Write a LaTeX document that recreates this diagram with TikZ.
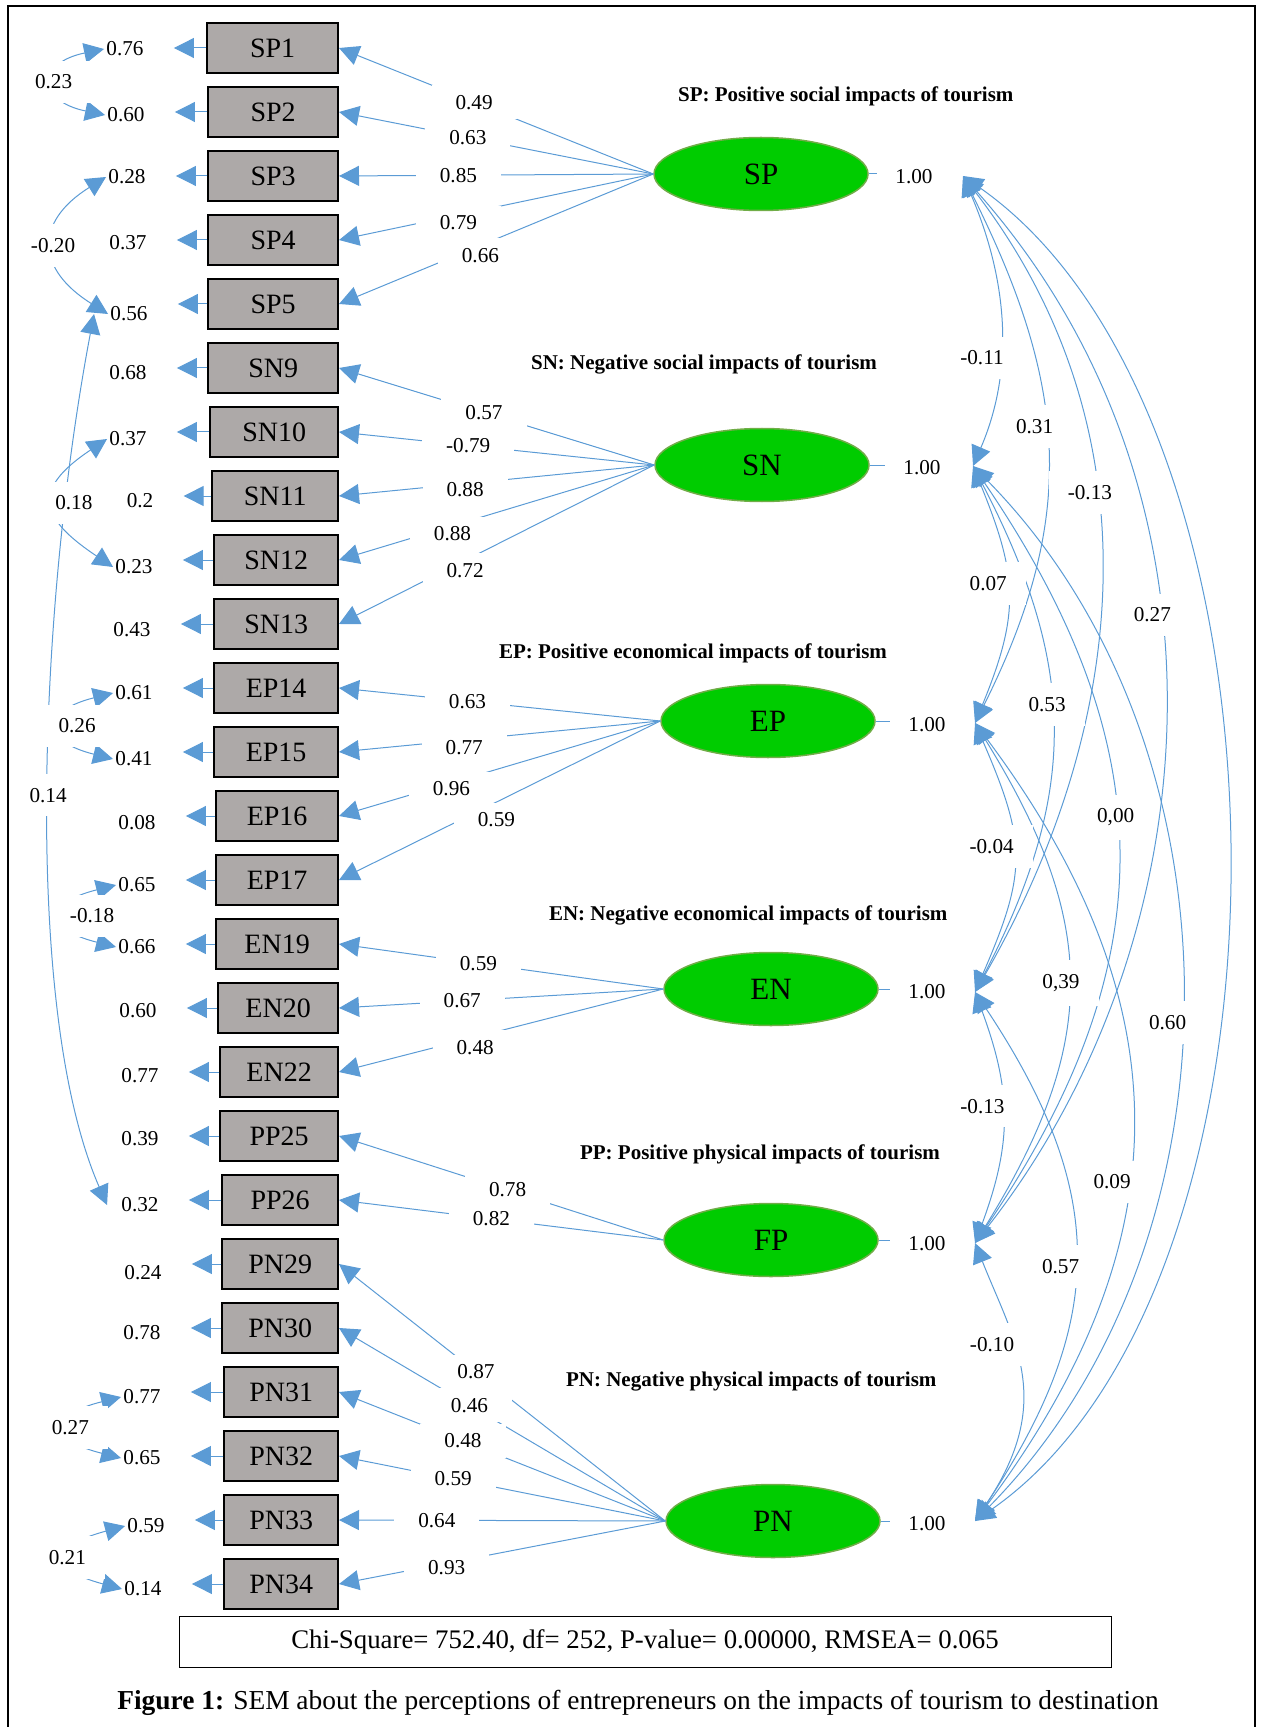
\documentclass[tikz,border=0pt]{standalone}
\usepackage{fontspec}
\setmainfont{Liberation Serif}
\usetikzlibrary{arrows.meta}
\usetikzlibrary{shapes.geometric}
\definecolor{pathblue}{HTML}{5B9BD5}
\definecolor{boxgray}{HTML}{ADA9A8}
\definecolor{latgreen}{HTML}{00CC00}
\definecolor{latrim}{HTML}{70AD47}

\begin{document}
\begin{tikzpicture}[x=0.5pt,y=-0.5pt,>/.tip={Triangle[length=10pt,width=10pt]},
	item/.style={draw,fill=boxgray,line width=0.85pt,anchor=east,minimum height=25pt,minimum width=#1,inner sep=0pt,font=\fontsize{14}{16}\selectfont},
	latent/.style={draw=latrim,fill=latgreen,line width=0.75pt,shape=ellipse,minimum width=107pt,minimum height=36.5pt,inner sep=0pt,font=\fontsize{15.5}{18}\selectfont},
	num/.style={inner sep=1pt,font=\fontsize{10.6}{12}\selectfont},
	onpath/.style={num,fill=white,inner xsep=12pt,inner ysep=5pt},
	oncurve/.style={num,fill=white,inner xsep=9.5pt,inner ysep=7pt},
	title/.style={anchor=west,font=\bfseries\fontsize{10.5}{12}\selectfont},
	load/.style={->,draw=pathblue,line width=0.5pt},
	err/.style={->,draw=pathblue,line width=0.5pt,shorten >=14pt},
	cov/.style={<->,draw=pathblue,line width=0.5pt}]
	\useasboundingbox (0,0) rectangle (1262,1727);
	\draw[line width=0.85pt] (8,1727) -- (8,6) -- (1255,6) -- (1255,1727);

	% observed items
	\draw (339,48) node (SP1) [item=65.5pt] {SP1};
	\draw (339,112) node (SP2) [item=65pt] {SP2};
	\draw (339,176) node (SP3) [item=65pt] {SP3};
	\draw (339,240) node (SP4) [item=65pt] {SP4};
	\draw (339,304) node (SP5) [item=65pt] {SP5};
	\draw (339,368) node (SN9) [item=65pt] {SN9};
	\draw (339,432) node (SN10) [item=64pt] {SN10};
	\draw (339,496) node (SN11) [item=63pt] {SN11};
	\draw (339,560) node (SN12) [item=62pt] {SN12};
	\draw (339,624) node (SN13) [item=62pt] {SN13};
	\draw (339,688) node (EP14) [item=62pt] {EP14};
	\draw (339,752) node (EP15) [item=62pt] {EP15};
	\draw (339,816) node (EP16) [item=61pt] {EP16};
	\draw (339,880) node (EP17) [item=61pt] {EP17};
	\draw (339,944) node (EN19) [item=61pt] {EN19};
	\draw (339,1008) node (EN20) [item=60pt] {EN20};
	\draw (339,1072) node (EN22) [item=59pt] {EN22};
	\draw (339,1136) node (PP25) [item=59pt] {PP25};
	\draw (339,1200) node (PP26) [item=58pt] {PP26};
	\draw (339,1264) node (PN29) [item=58pt] {PN29};
	\draw (339,1328) node (PN30) [item=58pt] {PN30};
	\draw (339,1392) node (PN31) [item=57pt] {PN31};
	\draw (339,1456) node (PN32) [item=57pt] {PN32};
	\draw (339,1520) node (PN33) [item=57pt] {PN33};
	\draw (339,1584) node (PN34) [item=57pt] {PN34};

	% error variances
	\draw (125,49) node (eSP1) [num] {0.76};
	\draw (126,115) node (eSP2) [num] {0.60};
	\draw (127,177) node (eSP3) [num] {0.28};
	\draw (128,243) node (eSP4) [num] {0.37};
	\draw (129,314) node (eSP5) [num] {0.56};
	\draw (128,373) node (eSN9) [num] {0.68};
	\draw (128,439) node (eSN10) [num] {0.37};
	\draw (140,501) node (eSN11) [num] {0.2};
	\draw (134,567) node (eSN12) [num] {0.23};
	\draw (132,630) node (eSN13) [num] {0.43};
	\draw (134,693) node (eEP14) [num] {0.61};
	\draw (134,759) node (eEP15) [num] {0.41};
	\draw (137,823) node (eEP16) [num] {0.08};
	\draw (137,885) node (eEP17) [num] {0.65};
	\draw (137,947) node (eEN19) [num] {0.66};
	\draw (138,1011) node (eEN20) [num] {0.60};
	\draw (140,1076) node (eEN22) [num] {0.77};
	\draw (140,1139) node (ePP25) [num] {0.39};
	\draw (140,1205) node (ePP26) [num] {0.32};
	\draw (143,1273) node (ePN29) [num] {0.24};
	\draw (142,1333) node (ePN30) [num] {0.78};
	\draw (142,1397) node (ePN31) [num] {0.77};
	\draw (142,1458) node (ePN32) [num] {0.65};
	\draw (146,1526) node (ePN33) [num] {0.59};
	\draw (143,1589) node (ePN34) [num] {0.14};

	\draw[err] (SP1.west) -- (SP1.west -| eSP1.east);
	\draw[err] (SP2.west) -- (SP2.west -| eSP2.east);
	\draw[err] (SP3.west) -- (SP3.west -| eSP3.east);
	\draw[err] (SP4.west) -- (SP4.west -| eSP4.east);
	\draw[err] (SP5.west) -- (SP5.west -| eSP5.east);
	\draw[err] (SN9.west) -- (SN9.west -| eSN9.east);
	\draw[err] (SN10.west) -- (SN10.west -| eSN10.east);
	\draw[err] (SN11.west) -- (SN11.west -| eSN11.east);
	\draw[err] (SN12.west) -- (SN12.west -| eSN12.east);
	\draw[err] (SN13.west) -- (SN13.west -| eSN13.east);
	\draw[err] (EP14.west) -- (EP14.west -| eEP14.east);
	\draw[err] (EP15.west) -- (EP15.west -| eEP15.east);
	\draw[err] (EP16.west) -- (EP16.west -| eEP16.east);
	\draw[err] (EP17.west) -- (EP17.west -| eEP17.east);
	\draw[err] (EN19.west) -- (EN19.west -| eEN19.east);
	\draw[err] (EN20.west) -- (EN20.west -| eEN20.east);
	\draw[err] (EN22.west) -- (EN22.west -| eEN22.east);
	\draw[err] (PP25.west) -- (PP25.west -| ePP25.east);
	\draw[err] (PP26.west) -- (PP26.west -| ePP26.east);
	\draw[err] (PN29.west) -- (PN29.west -| ePN29.east);
	\draw[err] (PN30.west) -- (PN30.west -| ePN30.east);
	\draw[err] (PN31.west) -- (PN31.west -| ePN31.east);
	\draw[err] (PN32.west) -- (PN32.west -| ePN32.east);
	\draw[err] (PN33.west) -- (PN33.west -| ePN33.east);
	\draw[err] (PN34.west) -- (PN34.west -| ePN34.east);

	% correlated errors
	\draw[cov] ([xshift=-7pt]eSP5.west) .. controls +(-55,290) and +(-85,-195) .. ([xshift=-6pt]ePP26.west) coordinate[pos=.5] (kE14);
	\draw[cov] (eSP1.west) .. controls +(-68,14) and +(-68,-14) .. (eSP2.west) coordinate[pos=.5] (kE23);
	\draw[cov] (eSP3.west) .. controls +(-72,45) and +(-72,-45) .. (eSP5.west) coordinate[pos=.5] (kE20);
	\draw[cov] (eSN10.west) .. controls +(-75,50) and +(-75,-50) .. (eSN12.west) coordinate[pos=.5] (kE18);
	\draw[cov] (eEP14.west) .. controls +(-72,18) and +(-72,-18) .. (eEP15.west) coordinate[pos=.5] (kE26);
	\draw[cov] (eEP17.west) .. controls +(-72,18) and +(-72,-18) .. (eEN19.west) coordinate[pos=.5] (kE18n);
	\draw[cov] (ePN31.west) .. controls +(-73,18) and +(-73,-18) .. (ePN32.west) coordinate[pos=.5] (kE27);
	\draw[cov] (ePN33.west) .. controls +(-75,20) and +(-75,-20) .. (ePN34.west) coordinate[pos=.5] (kE21);
	\draw (kE14) node [oncurve] {0.14};
	\draw (kE23) node [oncurve] {0.23};
	\draw (kE20) node [oncurve] {-0.20};
	\draw (kE18) node [oncurve,xshift=10pt] {0.18};
	\draw (kE26) node [oncurve,xshift=9pt] {0.26};
	\draw (kE18n) node [oncurve,xshift=15pt] {-0.18};
	\draw (kE27) node [oncurve,xshift=2pt] {0.27};
	\draw (kE21) node [oncurve] {0.21};

	% latent factors
	\draw (761,174) node (SP) [latent] {SP};
	\draw (762,465) node (SN) [latent] {SN};
	\draw (768,721) node (EP) [latent] {EP};
	\draw (771,989) node (EN) [latent] {EN};
	\draw (771,1240) node (FP) [latent] {FP};
	\draw (773,1521) node (PN) [latent] {PN};

	\draw (671,96) node (tSP) [title] {SP: Positive social impacts of tourism};
	\draw (524,364) node (tSN) [title] {SN: Negative social impacts of tourism};
	\draw (492,653) node (tEP) [title] {EP: Positive economical impacts of tourism};
	\draw (542,915) node (tEN) [title] {EN: Negative economical impacts of tourism};
	\draw (573,1154) node (tFP) [title] {PP: Positive physical impacts of tourism};
	\draw (559,1381) node (tPN) [title] {PN: Negative physical impacts of tourism};

	% loadings
	\path (SP.west) edge [load] node [onpath,pos=.57] {0.49} (SP1.east);
	\path (SP.west) edge [load] node [onpath,pos=.59] {0.63} (SP2.east);
	\path (SP.west) edge [load] node [onpath,pos=.62] {0.85} (SP3.east);
	\path (SP.west) edge [load] node [onpath,pos=.62,yshift=-4pt] {0.79} (SP4.east);
	\path (SP.west) edge [load] node [onpath,pos=.55,yshift=-5pt] {0.66} (SP5.east);
	\path (SN.west) edge [load] node [onpath,pos=.54] {0.57} (SN9.east);
	\path (SN.west) edge [load] node [onpath,pos=.59] {-0.79} (SN10.east);
	\path (SN.west) edge [load] node [onpath,pos=.60,yshift=-3pt] {0.88} (SN11.east);
	\path (SN.west) edge [load] node [onpath,pos=.64,yshift=-4pt] {0.88} (SN12.east);
	\path (SN.west) edge [load] node [onpath,pos=.60,yshift=-5pt] {0.72} (SN13.east);
	\path (EP.west) edge [load] node [onpath,pos=.60] {0.63} (EP14.east);
	\path (EP.west) edge [load] node [onpath,pos=.61,yshift=-4pt] {0.77} (EP15.east);
	\path (EP.west) edge [load] node [onpath,pos=.65,yshift=-3pt] {0.96} (EP16.east);
	\path (EP.west) edge [load] node [onpath,pos=.51,yshift=-9pt] {0.59} (EP17.east);
	\path (EN.west) edge [load] node [onpath,pos=.57] {0.59} (EN19.east);
	\path (EN.west) edge [load] node [onpath,pos=.62] {0.67} (EN20.east);
	\path (EN.west) edge [load] node [onpath,pos=.58,yshift=-5pt] {0.48} (EN22.east);
	\path (FP.west) edge [load] node [onpath,pos=.48] {0.78} (PP25.east);
	\path (FP.west) edge [load] node [onpath,pos=.53] {0.82} (PP26.east);
	\path (PN.west) edge [load] node [onpath,pos=.58] {0.87} (PN29.east);
	\path (PN.west) edge [load] node [onpath,pos=.60] {0.46} (PN30.east);
	\path (PN.west) edge [load] node [onpath,pos=.62] {0.48} (PN31.east);
	\path (PN.west) edge [load] node [onpath,pos=.65] {0.59} (PN32.east);
	\path (PN.west) edge [load] node [onpath,pos=.70] {0.64} (PN33.east);
	\path (PN.west) edge [load] node [onpath,pos=.67,yshift=-2pt] {0.93} (PN34.east);

	% factor variances
	\draw (914,177) node (vSP) [num,inner xsep=9pt] {1.00};
	\draw (922,468) node (vSN) [num,inner xsep=9pt] {1.00};
	\draw (927,725) node (vEP) [num,inner xsep=9pt] {1.00};
	\draw (927,992) node (vEN) [num,inner xsep=9pt] {1.00};
	\draw (927,1244) node (vFP) [num,inner xsep=9pt] {1.00};
	\draw (927,1524) node (vPN) [num,inner xsep=9pt] {1.00};
	\draw[pathblue,line width=0.5pt] (SP.east) -- (SP.east -| vSP.west);
	\draw[pathblue,line width=0.5pt] (SN.east) -- (SN.east -| vSN.west);
	\draw[pathblue,line width=0.5pt] (EP.east) -- (EP.east -| vEP.west);
	\draw[pathblue,line width=0.5pt] (EN.east) -- (EN.east -| vEN.west);
	\draw[pathblue,line width=0.5pt] (FP.east) -- (FP.east -| vFP.west);
	\draw[pathblue,line width=0.5pt] (PN.east) -- (PN.east -| vPN.west);

	% factor covariances
	\coordinate (SPc) at (963,176);
	\coordinate (SNc) at (973,466);
	\coordinate (EPc) at (975,723);
	\coordinate (ENc) at (975,992);
	\coordinate (FPc) at (975,1243);
	\coordinate (PNc) at (975,1521);
	\draw[cov] (SPc) .. controls +(43,100) and +(43,-100) .. (SNc) coordinate[pos=.63] (kSPSN);
	\draw[cov] (SPc) .. controls +(104,208) and +(104,-208) .. (EPc) coordinate[pos=.455] (kSPEP);
	\draw[cov] (SPc) .. controls +(200,260) and +(150,-260) .. (ENc) coordinate[pos=.39] (kSPEN);
	\draw[cov] (SPc) .. controls +(285,320) and +(235,-300) .. (FPc) coordinate[pos=.41] (kSPFP);
	\draw[cov] (SPc) .. controls +(344,240) and +(344,-240) .. (PNc);
	\draw[cov] (SNc) .. controls +(45,110) and +(45,-110) .. (EPc) coordinate[pos=.45] (kSNEP);
	\draw[cov] (SNc) .. controls +(104,200) and +(104,-200) .. (ENc) coordinate[pos=.45] (kSNEN);
	\draw[cov] (SNc) .. controls +(191,280) and +(191,-280) .. (FPc) coordinate[pos=.45] (kSNFP);
	\draw[cov] (SNc) .. controls +(276,280) and +(276,-280) .. (PNc) coordinate[pos=.525] (kSNPN);
	\draw[cov] (EPc) .. controls +(52,120) and +(52,-120) .. (ENc) coordinate[pos=.45] (kEPEN);
	\draw[cov] (EPc) .. controls +(124,200) and +(124,-200) .. (FPc) coordinate[pos=.5] (kEPFP);
	\draw[cov] (EPc) .. controls +(209,280) and +(209,-280) .. (PNc) coordinate[pos=.577] (kEPPN);
	\draw[cov] (ENc) .. controls +(37,100) and +(37,-100) .. (FPc) coordinate[pos=.45] (kENFP);
	\draw[cov] (ENc) .. controls +(133,200) and +(133,-200) .. (PNc) coordinate[pos=.52] (kENPN);
	\draw[cov] (FPc) .. controls +(40,100) and +(80,-120) .. (PNc) coordinate[pos=.38] (kFPPN);
	\draw (kSPSN) node [oncurve,xshift=-9pt] {-0.11};
	\draw (kSPEP) node [oncurve,xshift=-5.5pt] {0.31};
	\draw (kSPEN) node [oncurve,xshift=-3pt] {-0.13};
	\draw (kSPFP) node [oncurve,xshift=-3.5pt] {0.27};
	\draw (kSNEP) node [oncurve,xshift=-9.5pt] {0.07};
	\draw (kSNEN) node [oncurve,xshift=-2pt] {0.53};
	\draw (kSNFP) node [oncurve] {0,00};
	\draw (kSNPN) node [oncurve,xshift=-6.5pt] {0.60};
	\draw (kEPEN) node [oncurve,xshift=-11pt] {-0.04};
	\draw (kEPFP) node [oncurve,xshift=-3.5pt] {0,39};
	\draw (kEPPN) node [oncurve,xshift=-8pt] {0.09};
	\draw (kENFP) node [oncurve,xshift=-10pt] {-0.13};
	\draw (kENPN) node [oncurve,xshift=-7pt] {0.57};
	\draw (kFPPN) node [oncurve,xshift=-11pt] {-0.10};

	% fit and caption
	\draw (645,1642) node (fit) [draw,line width=0.5pt,minimum width=466pt,minimum height=25.5pt,font=\fontsize{13.4}{15}\selectfont] {Chi-Square= 752.40, df= 252, P-value= 0.00000, RMSEA= 0.065};
	\draw (638,1703) node (cap) [font=\fontsize{13.7}{16}\selectfont] {\textbf{Figure 1:} SEM about the perceptions of entrepreneurs on the impacts of tourism to destination};
\end{tikzpicture}
\end{document}
